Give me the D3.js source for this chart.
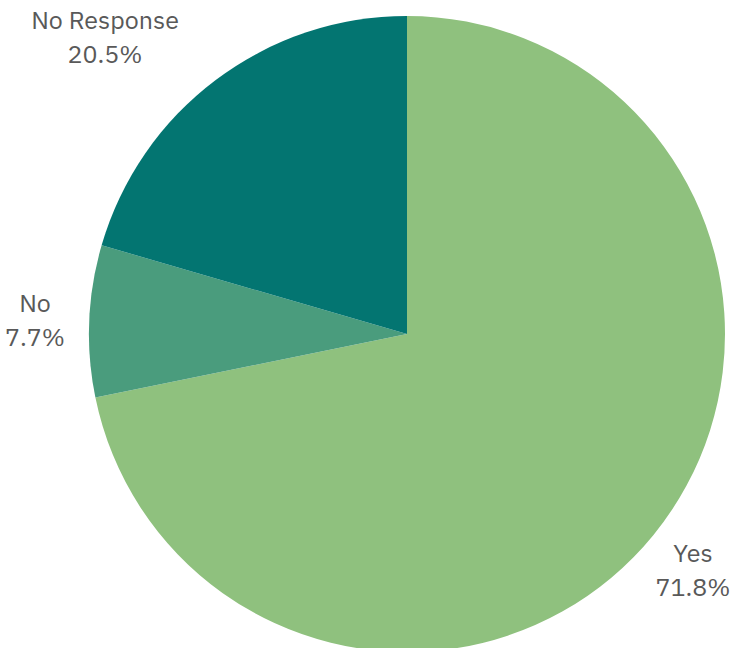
<!DOCTYPE html>
<html>
<head>
<meta charset="utf-8">
<script src="https://cdn.jsdelivr.net/npm/d3@7"></script>
<style>
  html, body { margin: 0; padding: 0; background: #fff; }
  svg { display: block; }
</style>
</head>
<body>
<svg id="chart" width="730" height="648"></svg>
<script>
// Survey answers, clockwise from 12 o'clock
const categories = ["Yes", "No", "No Response"];
const values = [71.8, 7.7, 20.5];
const colors = ["#8FC17E", "#4A9C7D", "#037571"];
// Label anchor points (centre of the two-line label)
const labelPos = [[693, 570], [35, 320], [105, 37]];

const svg = d3.select("#chart");
const cx = 407, cy = 334, r = 318;

const pie = d3.pie().sort(null).value(d => d.value);
const arc = d3.arc().innerRadius(0).outerRadius(r);
const data = categories.map((c, i) => ({ name: c, value: values[i], color: colors[i], pos: labelPos[i] }));

const g = svg.append("g").attr("transform", `translate(${cx},${cy})`);
g.selectAll("path")
  .data(pie(data))
  .join("path")
  .attr("d", arc)
  .attr("fill", d => d.data.color);

const labels = svg.append("g")
  .attr("font-family", "'IBM Plex Sans', Inter, 'Noto Sans', sans-serif")
  .attr("font-size", 25)
  .attr("fill", "#595959")
  .attr("text-anchor", "middle");

const lab = labels.selectAll("text")
  .data(data)
  .join("text")
  .attr("transform", d => `translate(${d.pos[0]},${d.pos[1]})`);
lab.append("tspan").attr("x", 0).attr("y", -8).text(d => d.name);
lab.append("tspan").attr("x", 0).attr("y", 26).text(d => d.value.toFixed(1) + "%");
</script>
</body>
</html>
